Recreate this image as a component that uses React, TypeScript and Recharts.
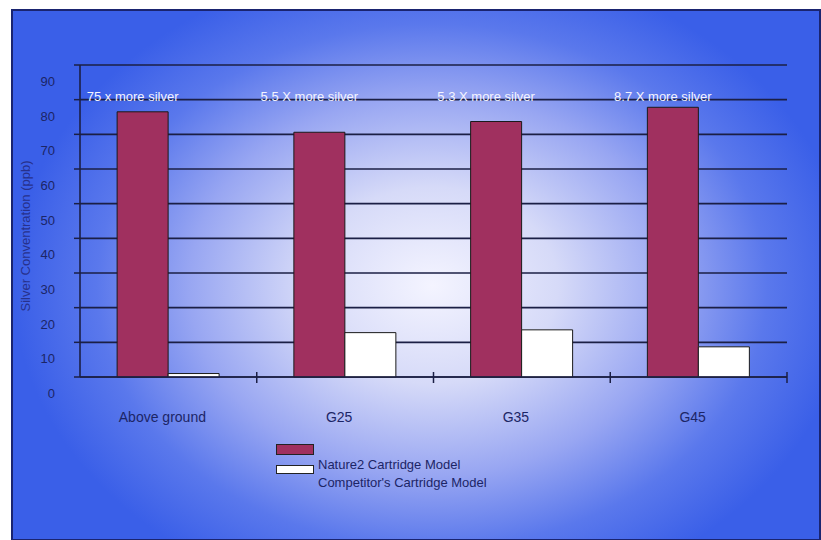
import React from 'react';
import { BarChart, Bar, XAxis, YAxis, CartesianGrid, LabelList } from 'recharts';

const categories = ['Above ground', 'G25', 'G35', 'G45'];
const nature2Values = [76.5, 70.6, 73.7, 77.8];
const competitorValues = [1.0, 12.8, 13.6, 8.7];
const notes = ['75 x more silver', '5.5 X more silver', '5.3 X more silver', '8.7 X more silver'];
const yTicks = [0, 10, 20, 30, 40, 50, 60, 70, 80, 90];
const seriesNames = ['Nature2 Cartridge Model', "Competitor's Cartridge Model"];
const yAxisTitle = 'Silver Conventration (ppb)';
const NOTE_LEVEL = 80.6;

const data = categories.map((name, i) => ({
  name,
  nature2: nature2Values[i],
  competitor: competitorValues[i],
  note: notes[i],
}));

const W = 821;
const H = 540;
const MARGIN = { top: 65, right: 34, left: 20, bottom: 113 };
const Y_AXIS_W = 60;
const X_AXIS_H = 50;
const PLOT_W = W - MARGIN.left - MARGIN.right - Y_AXIS_W;
const STEP = PLOT_W / categories.length;

const FONT = '"Liberation Sans", Arial, sans-serif';
const TEXT_DARK = '#1c2566';
const LINE = '#1b1f45';
const RED = '#a0305f';

const YTick = (props: any) => {
  const { x, y, payload } = props;
  return (
    <text x={x - 17} y={y + 21} textAnchor="end" fontFamily={FONT} fontSize={13} fill={TEXT_DARK}>
      {payload.value}
    </text>
  );
};

const XTick = (props: any) => {
  const { x, y, payload } = props;
  return (
    <g>
      <line x1={x + STEP / 2} x2={x + STEP / 2} y1={y - 5} y2={y + 6} stroke={LINE} strokeWidth={1.5} />
      <text x={x - 6} y={y + 45} textAnchor="middle" fontFamily={FONT} fontSize={14} fill={TEXT_DARK}>
        {payload.value}
      </text>
    </g>
  );
};

const NoteLabel = (props: any) => {
  const { x, y, width, height, index, value } = props;
  const v = nature2Values[index];
  const bottom = y + height;
  const ly = bottom - (NOTE_LEVEL * height) / v;
  return (
    <text
      x={x + width / 2 - 10}
      y={ly}
      dominantBaseline="middle"
      textAnchor="middle"
      fontFamily={FONT}
      fontSize={13}
      fill="#f4f4ff"
    >
      {value}
    </text>
  );
};

const YTitle = (props: any) => {
  const { viewBox } = props;
  const cx = viewBox.x + 7;
  const cy = viewBox.y + viewBox.height / 2 + 15;
  return (
    <text
      x={cx}
      y={cy}
      transform={`rotate(-90 ${cx} ${cy})`}
      textAnchor="middle"
      dominantBaseline="middle"
      fontFamily={FONT}
      fontSize={13}
      fill="#27318c"
    >
      {yAxisTitle}
    </text>
  );
};

export default function App() {
  return (
    <div style={{ position: 'absolute', left: 0, top: 0, width: W, height: H, background: '#ffffff', overflow: 'hidden' }}>
      <div
        style={{
          position: 'absolute',
          left: 11,
          top: 9,
          width: 806,
          height: 528,
          border: '2px solid #1a2470',
          background:
            'radial-gradient(ellipse 52% 62% at 52% 52%, #f4f4ff 0%, #d6daf8 30%, #98a6f2 58%, #5a78ec 80%, #3a5fe8 100%)',
        }}
      />
      <div style={{ position: 'absolute', left: 0, top: 0 }}>
        <BarChart width={W} height={H} data={data} margin={MARGIN} barCategoryGap="21%" barGap={0}>
          <CartesianGrid horizontal vertical={false} stroke={LINE} strokeWidth={1.6} />
          <XAxis
            dataKey="name"
            height={X_AXIS_H}
            axisLine={{ stroke: LINE, strokeWidth: 1.6 }}
            tickLine={false}
            tickSize={0}
            tickMargin={0}
            tick={<XTick />}
            interval={0}
          />
          <YAxis
            width={Y_AXIS_W}
            domain={[0, 90]}
            ticks={yTicks}
            interval={0}
            axisLine={{ stroke: LINE, strokeWidth: 1.6 }}
            tickLine={{ stroke: LINE, strokeWidth: 1.5 }}
            tickSize={6}
            tick={<YTick />}
            label={<YTitle />}
          />
          <Bar dataKey="nature2" name={seriesNames[0]} fill={RED} stroke="#1a1a1a" strokeWidth={1} isAnimationActive={false}>
            <LabelList dataKey="note" content={<NoteLabel />} />
          </Bar>
          <Bar dataKey="competitor" name={seriesNames[1]} fill="#ffffff" stroke="#1a1a1a" strokeWidth={1} isAnimationActive={false} />
        </BarChart>
      </div>
      <div style={{ position: 'absolute', left: 276, top: 444, width: 36, height: 9, background: RED, border: '1px solid #222' }} />
      <div style={{ position: 'absolute', left: 276, top: 465, width: 36, height: 7, background: '#ffffff', border: '1px solid #222' }} />
      <div style={{ position: 'absolute', left: 318, top: 456, fontFamily: FONT, fontSize: 13, lineHeight: '17px', color: TEXT_DARK, whiteSpace: 'nowrap' }}>
        {seriesNames[0]}
      </div>
      <div style={{ position: 'absolute', left: 318, top: 474, fontFamily: FONT, fontSize: 13, lineHeight: '17px', color: TEXT_DARK, whiteSpace: 'nowrap' }}>
        {seriesNames[1]}
      </div>
    </div>
  );
}
